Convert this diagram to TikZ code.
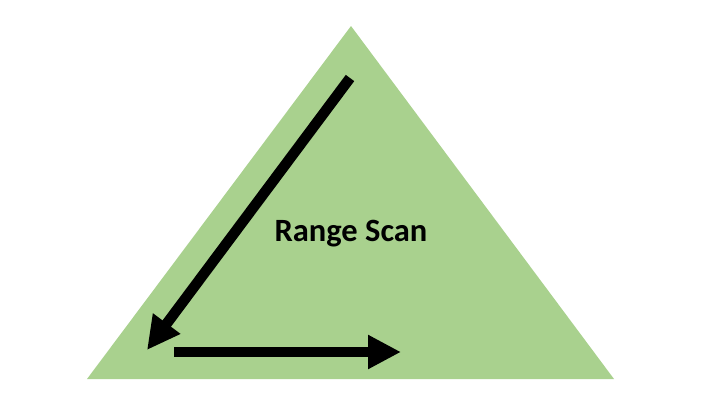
\documentclass[tikz,border=0pt]{standalone}
\usepackage{fontspec}
\setmainfont{Carlito}
\usetikzlibrary{arrows.meta}
\definecolor{tri}{HTML}{A9D18E}
\tikzset{
  bigarrow/.style={line width=10.5pt, -{Triangle[length=33pt,width=32pt]}},
  label/.style={font=\bfseries\fontsize{32.5}{36}\selectfont, text=black, inner sep=0pt}
}
\begin{document}
\begin{tikzpicture}[x=1pt,y=-1pt]
\useasboundingbox (0,0) rectangle (720,405);
\coordinate (apex) at (351,26);
\coordinate (bl) at (87,379);
\coordinate (br) at (614,379);
\fill[tri] (apex) -- (br) -- (bl) -- cycle;
\coordinate (a1s) at (350,78);
\coordinate (a1e) at (147,350);
\coordinate (a2s) at (174,352);
\coordinate (a2e) at (401,352);
\draw[bigarrow] (a1s) -- (a1e);
\draw[bigarrow] (a2s) -- (a2e);
\node[label] (txt) at (351,234) {Range Scan};
\end{tikzpicture}
\end{document}
